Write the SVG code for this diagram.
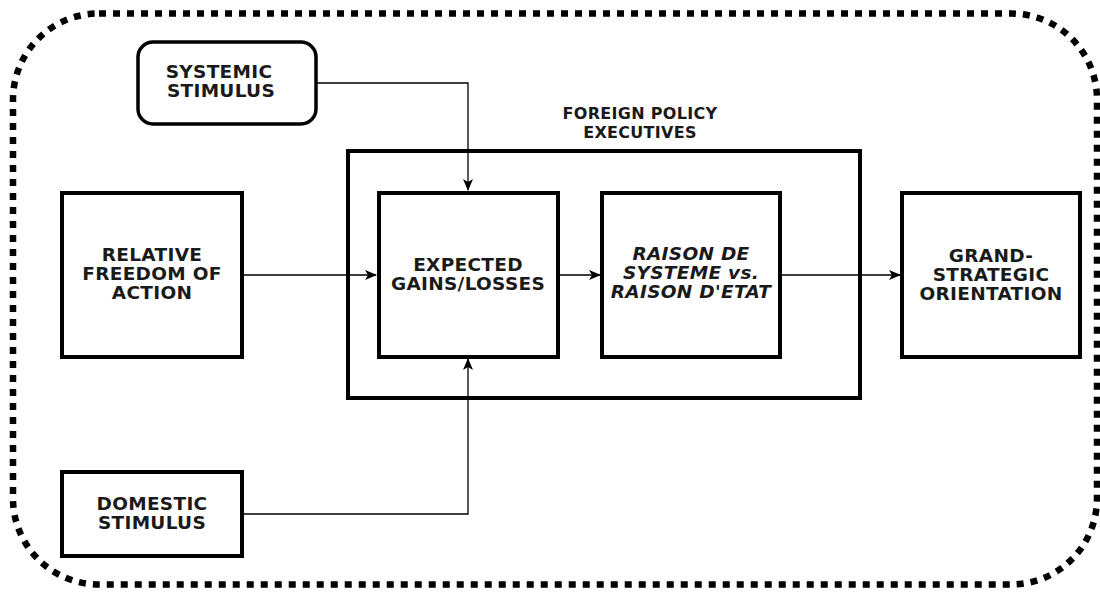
<svg xmlns="http://www.w3.org/2000/svg" width="1100" height="595" viewBox="0 0 1100 595">
<style>
.box{fill:#fff;stroke:#000;stroke-width:4}
.t{font-family:"DejaVu Sans",Verdana,sans-serif;font-weight:bold;font-size:18.5px;letter-spacing:0.3px;fill:#1a1a1a;text-anchor:middle}
.lbl{font-size:16px;letter-spacing:0.3px}
.it{font-style:italic}
.c{fill:none;stroke:#000;stroke-width:1.3}
</style>
<defs>
<marker id="ah" viewBox="0 0 12 10" refX="11" refY="5" markerWidth="12" markerHeight="10" markerUnits="userSpaceOnUse" orient="auto">
<path d="M0,0 L12,5 L0,10 L3,5 Z" fill="#000"/>
</marker>
</defs>
<rect id="frame" x="13" y="13.5" width="1084" height="571" rx="86" ry="86" fill="none" stroke="#000" stroke-width="6.5" stroke-dasharray="7 7"/>
<g id="connectors">
<path class="c" d="M316,83 H468 V190" marker-end="url(#ah)"/>
<path class="c" d="M242,514 H468 V359" marker-end="url(#ah)"/>
<path class="c" d="M242,275 H376" marker-end="url(#ah)"/>
<path class="c" d="M558,275 H600" marker-end="url(#ah)"/>
<path class="c" d="M780,275 H900" marker-end="url(#ah)"/>
</g>
<g id="fpe">
<rect class="box" x="348" y="151" width="512" height="247" style="fill:none"/>
<text class="t lbl" x="640" y="119">FOREIGN POLICY</text>
<text class="t lbl" x="640" y="138">EXECUTIVES</text>
</g>
<g id="systemic">
<rect class="box" x="138" y="42" width="178" height="82" rx="15" ry="15" style="stroke-width:3.5"/>
<text class="t" x="219" y="78">SYSTEMIC</text>
<text class="t" x="221" y="97">STIMULUS</text>
</g>
<g id="relative">
<rect class="box" x="62" y="193" width="180" height="164"/>
<text class="t" x="152" y="261">RELATIVE</text>
<text class="t" x="152" y="280">FREEDOM OF</text>
<text class="t" x="152" y="299">ACTION</text>
</g>
<g id="expected">
<rect class="box" x="379" y="193" width="179" height="164"/>
<text class="t" x="468" y="271">EXPECTED</text>
<text class="t" x="468" y="290">GAINS/LOSSES</text>
</g>
<g id="raison">
<rect class="box" x="602" y="193" width="178" height="164"/>
<text class="t it" x="691" y="260">RAISON DE</text>
<text class="t it" x="691" y="279">SYSTEME vs.</text>
<text class="t it" x="691" y="298">RAISON D'ETAT</text>
</g>
<g id="grand">
<rect class="box" x="902" y="193" width="178" height="164"/>
<text class="t" x="991" y="262">GRAND-</text>
<text class="t" x="991" y="281">STRATEGIC</text>
<text class="t" x="991" y="300">ORIENTATION</text>
</g>
<g id="domestic">
<rect class="box" x="62" y="472" width="180" height="84"/>
<text class="t" x="152" y="510">DOMESTIC</text>
<text class="t" x="152" y="529">STIMULUS</text>
</g>
</svg>
